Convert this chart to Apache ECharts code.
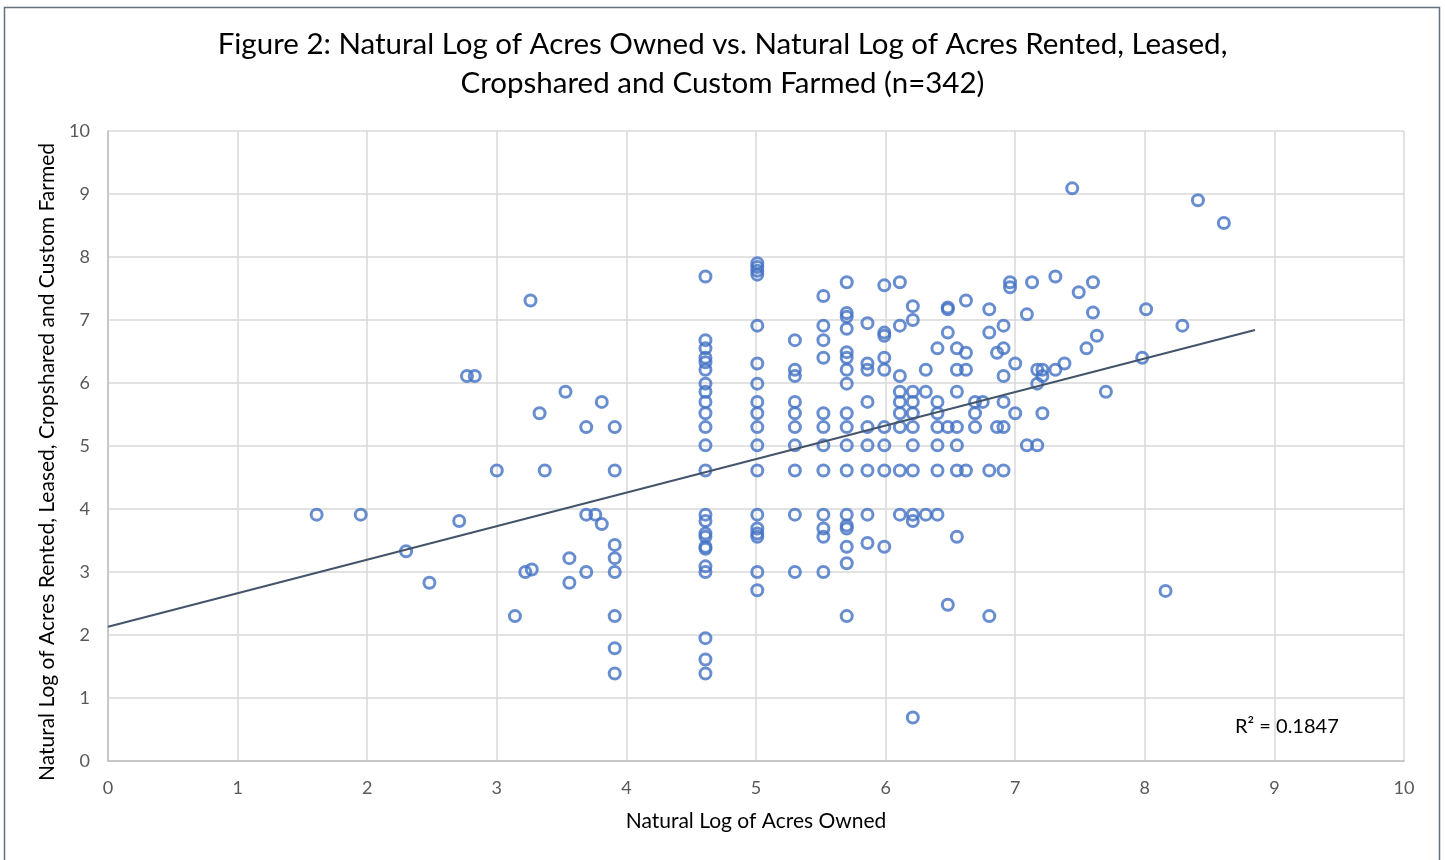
<!DOCTYPE html>
<html>
<head>
<meta charset="utf-8">
<title>Figure 2</title>
<script src="https://cdn.jsdelivr.net/npm/echarts@6/dist/echarts.min.js"></script>
<style>
  html, body { margin: 0; padding: 0; background: #fff; }
  #chart { width: 1445px; height: 860px; }
</style>
</head>
<body>
<div id="chart"></div>
<script>
// ln(acres owned) for each column of points, and the ln(acres rented...) values found there
const ownedX = [1.61, 1.95, 2.30, 2.48, 2.71, 2.77, 2.83, 3.00, 3.14, 3.22, 3.27, 3.26, 3.33, 3.37, 3.53, 3.56, 3.69, 3.76, 3.81,
  3.91, 4.61, 5.01, 5.30, 5.52, 5.70, 5.86, 5.99, 6.11, 6.21, 6.31, 6.40, 6.48, 6.55, 6.62, 6.69, 6.75, 6.80, 6.86, 6.91, 6.96,
  7.00, 7.09, 7.13, 7.17, 7.21, 7.31, 7.38, 7.44, 7.49, 7.55, 7.60, 7.63, 7.70, 7.98, 8.01, 8.16, 8.29, 8.41, 8.61];
const rentedY = [
  [3.91], [3.91], [3.33], [2.83], [3.81], [6.11], [6.11], [4.61], [2.30], [3.00], [3.04], [7.31], [5.52], [4.61], [5.86],
  [3.22, 2.83], [5.30, 3.91, 3.00], [3.91], [3.76, 5.70],
  [5.30, 4.61, 3.43, 3.22, 3.00, 2.30, 1.79, 1.39],
  [7.69, 6.68, 6.55, 6.40, 6.33, 6.21, 5.99, 5.86, 5.70, 5.52, 5.30, 5.01, 4.61, 3.91, 3.81, 3.61, 3.56, 3.40, 3.37, 3.09, 3.00, 1.95, 1.61, 1.39],
  [7.90, 7.84, 7.78, 7.72, 6.91, 6.31, 5.99, 5.70, 5.52, 5.30, 5.01, 4.61, 3.91, 3.69, 3.61, 3.56, 3.00, 2.71],
  [6.68, 6.21, 6.11, 5.70, 5.52, 5.30, 5.01, 4.61, 3.91, 3.00],
  [7.38, 6.91, 6.68, 6.40, 5.52, 5.30, 5.01, 4.61, 3.91, 3.69, 3.56, 3.00],
  [7.60, 7.11, 7.05, 6.86, 6.49, 6.40, 6.21, 5.99, 5.52, 5.30, 5.01, 4.61, 3.91, 3.74, 3.69, 3.40, 3.14, 2.30],
  [6.95, 6.31, 6.21, 5.70, 5.30, 5.01, 4.61, 3.91, 3.46],
  [7.55, 6.80, 6.75, 6.40, 6.21, 5.30, 5.01, 4.61, 3.40],
  [7.60, 6.91, 6.11, 5.86, 5.70, 5.52, 5.30, 4.61, 3.91],
  [7.22, 7.00, 5.86, 5.70, 5.52, 5.30, 5.01, 4.61, 3.91, 3.81, 0.69],
  [6.21, 5.86, 3.91],
  [6.55, 5.70, 5.52, 5.30, 5.01, 4.61, 3.91],
  [7.20, 7.17, 6.80, 5.30, 2.48],
  [6.55, 6.21, 5.86, 5.30, 5.01, 4.61, 3.56],
  [7.31, 6.48, 6.21, 4.61],
  [5.70, 5.52, 5.30],
  [5.70],
  [7.17, 6.80, 4.61, 2.30],
  [6.48, 5.30],
  [6.91, 6.55, 6.11, 5.70, 5.30, 4.61],
  [7.60, 7.52],
  [6.31, 5.52],
  [7.09, 5.01],
  [7.60],
  [6.21, 5.99, 5.01],
  [6.21, 6.11, 5.52],
  [7.69, 6.21],
  [6.31],
  [9.09],
  [7.44],
  [6.55],
  [7.60, 7.12],
  [6.75],
  [5.86],
  [6.40],
  [7.17],
  [2.70],
  [6.91],
  [8.90],
  [8.54]
];
// linear trendline ends as drawn in the figure
const trendX = [0, 8.85];
const trendY = [2.13, 6.84];
const rSquared = '0.1847';
const ticks = [0, 1, 2, 3, 4, 5, 6, 7, 8, 9, 10];

const points = ownedX.flatMap((x, i) => rentedY[i].map((y) => [x, y]));
const trend = trendX.map((x, i) => [x, trendY[i]]);

const font = 'Lato, "Open Sans", sans-serif';
const chart = echarts.init(document.getElementById('chart'));
chart.setOption({
  backgroundColor: '#fff',
  animation: false,
  title: {
    text: 'Figure 2: Natural Log of Acres Owned vs. Natural Log of Acres Rented, Leased,\nCropshared and Custom Farmed (n=342)',
    left: 'center',
    top: 20,
    textStyle: { fontFamily: font, fontSize: 29.5, fontWeight: 'normal', color: '#000', lineHeight: 39, align: 'center' }
  },
  grid: { left: 108, right: 41, top: 131, bottom: 99 },
  xAxis: {
    type: 'value',
    min: ticks[0],
    max: ticks[ticks.length - 1],
    interval: 1,
    name: 'Natural Log of Acres Owned',
    nameLocation: 'middle',
    nameGap: 50,
    nameTextStyle: { fontFamily: font, fontSize: 21, color: '#000' },
    axisLine: { lineStyle: { color: '#bfbfbf', width: 1.5 } },
    axisTick: { show: false },
    axisLabel: { margin: 18, fontFamily: font, fontSize: 18, color: '#595959' },
    splitLine: { lineStyle: { color: '#d9d9d9', width: 1.5 } }
  },
  yAxis: {
    type: 'value',
    min: ticks[0],
    max: ticks[ticks.length - 1],
    interval: 1,
    name: 'Natural Log of Acres Rented, Leased, Cropshared and Custom Farmed',
    nameLocation: 'middle',
    nameGap: 50,
    nameTextStyle: { fontFamily: font, fontSize: 21, color: '#000', padding: [0, 32, 0, 0] },
    axisLine: { show: true, lineStyle: { color: '#bfbfbf', width: 1.5 } },
    axisTick: { show: false },
    axisLabel: { margin: 18, fontFamily: font, fontSize: 18, color: '#595959' },
    splitLine: { lineStyle: { color: '#d9d9d9', width: 1.5 } }
  },
  series: [
    {
      type: 'scatter',
      data: points,
      symbol: 'circle',
      symbolSize: 11,
      itemStyle: { color: 'rgba(0,0,0,0)', borderColor: '#4472c4', borderWidth: 3 },
      z: 3
    },
    {
      type: 'line',
      data: trend,
      symbol: 'none',
      lineStyle: { color: '#44546a', width: 2 },
      z: 4
    }
  ],
  graphic: [
    {
      type: 'rect',
      shape: { x: 4.5, y: 7.5, width: 1435, height: 900 },
      style: { fill: 'none', stroke: '#66717e', lineWidth: 1.5 },
      silent: true
    },
    {
      type: 'text',
      left: 1235,
      top: 717,
      style: { text: 'R² = ' + rSquared, fontFamily: font, fontSize: 20, fill: '#000' }
    }
  ]
});
</script>
</body>
</html>
